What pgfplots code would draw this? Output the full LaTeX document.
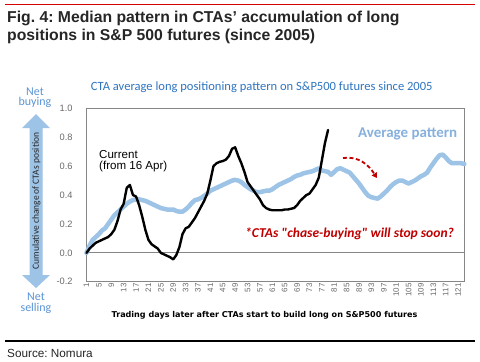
\documentclass[border=0pt]{standalone}
\usepackage{pgfplots}
\pgfplotsset{compat=1.18}
\usepackage{pgfplotstable}
\usepackage{fontspec}
\setmainfont{Liberation Sans}
\newfontfamily\carlito{Carlito}
\newfontfamily\dejavu{DejaVu Sans}
\usetikzlibrary{arrows.meta}
\definecolor{lblue}{HTML}{9DC3E6}
\definecolor{tblue}{HTML}{2F75C0}
\definecolor{nblue}{HTML}{5B95D5}
\definecolor{apblue}{HTML}{86B0DE}
\definecolor{dred}{HTML}{C00000}
\definecolor{axgray}{HTML}{868686}
\definecolor{tkgray}{HTML}{6A6A6A}
\definecolor{ttl}{HTML}{262626}
\frenchspacing

\pgfplotstableread{
d v
1 0
2 0.05
3 0.09
4 0.11
5 0.13
6 0.155
7 0.17
8 0.20
9 0.23
10 0.26
11 0.28
12 0.30
13 0.32
14 0.34
15 0.355
16 0.365
17 0.37
18 0.37
19 0.365
20 0.36
21 0.35
22 0.34
23 0.33
24 0.32
25 0.31
26 0.305
27 0.30
28 0.30
29 0.30
30 0.29
31 0.285
32 0.285
33 0.30
34 0.32
35 0.345
36 0.365
37 0.37
38 0.38
39 0.395
40 0.41
41 0.43
42 0.44
43 0.45
44 0.46
45 0.47
46 0.48
47 0.49
48 0.50
49 0.505
50 0.50
51 0.49
52 0.47
53 0.455
54 0.44
55 0.43
56 0.42
57 0.42
58 0.425
59 0.43
60 0.43
61 0.44
62 0.455
63 0.47
64 0.48
65 0.49
66 0.50
67 0.51
68 0.525
69 0.535
70 0.54
71 0.55
72 0.555
73 0.56
74 0.565
75 0.575
76 0.585
77 0.57
78 0.565
79 0.56
80 0.54
81 0.56
82 0.58
83 0.585
84 0.575
85 0.565
86 0.555
87 0.53
88 0.505
89 0.48
90 0.45
91 0.42
92 0.395
93 0.385
94 0.38
95 0.375
96 0.39
97 0.41
98 0.43
99 0.455
100 0.475
101 0.49
102 0.50
103 0.50
104 0.49
105 0.48
106 0.49
107 0.50
108 0.515
109 0.53
110 0.54
111 0.555
112 0.59
113 0.62
114 0.65
115 0.675
116 0.68
117 0.66
118 0.635
119 0.62
120 0.62
121 0.62
122 0.62
123 0.615
}\avgtab

\pgfplotstableread{
d v
1 0
2 0.03
3 0.05
4 0.07
5 0.08
6 0.09
7 0.10
8 0.11
9 0.13
10 0.16
11 0.22
12 0.30
13 0.34
14 0.45
15 0.47
16 0.40
17 0.39
18 0.33
19 0.25
20 0.16
21 0.09
22 0.06
23 0.045
24 0.03
25 0.00
26 -0.01
27 -0.02
28 -0.03
29 -0.045
30 -0.015
31 0.04
32 0.13
33 0.17
34 0.18
35 0.21
36 0.24
37 0.28
38 0.32
39 0.36
40 0.41
41 0.50
42 0.60
43 0.62
44 0.63
45 0.635
46 0.645
47 0.67
48 0.72
49 0.73
50 0.67
51 0.62
52 0.56
53 0.49
54 0.46
55 0.43
56 0.40
57 0.37
58 0.33
59 0.31
60 0.30
61 0.295
62 0.295
63 0.295
64 0.295
65 0.30
66 0.30
67 0.305
68 0.31
69 0.33
70 0.36
71 0.38
72 0.40
73 0.41
74 0.44
75 0.47
76 0.52
77 0.64
78 0.76
79 0.85
}\curtab

\begin{document}
\begin{tikzpicture}[x=1bp,y=1bp]
\fill[white] (0,0) rectangle (480,361);
% top red rule
\draw[line width=1.5bp, red!85!black] (5,356.5) -- (475,356.5);
% title
\node[anchor=base west, inner sep=0, font=\fontsize{15.8}{17}\selectfont\bfseries, text=ttl] at (7,338.3) {Fig. 4: Median pattern in CTAs’ accumulation of long};
\node[anchor=base west, inner sep=0, font=\fontsize{15.8}{17}\selectfont\bfseries, text=ttl] at (7,321) {positions in S\&P 500 futures (since 2005)};
% subtitle
\node[anchor=base west, inner sep=0, font=\carlito\fontsize{12.6}{13}\selectfont, text=tblue] at (90.7,270.3) {CTA average long positioning pattern on S\&P500 futures since 2005};
% Net buying / selling
\node[inner sep=0, font=\carlito\fontsize{12}{10}\selectfont, text=nblue, align=center, anchor=base] at (35,255.5) {Net\\buying};
\node[inner sep=0, font=\carlito\fontsize{12}{11}\selectfont, text=nblue, align=center, anchor=base] at (36,49.3) {Net\\selling};
% double arrow
\fill[lblue] (36,247) -- (50,233) -- (42.5,233) -- (42.5,86) -- (50,86) -- (36,73) -- (22,86) -- (29.5,86) -- (29.5,233) -- (22,233) -- cycle;
\node[rotate=90, inner sep=0, font=\carlito\fontsize{9.5}{10}\selectfont, text=black!85] at (36.5,160) {Cumulative change of CTAs position};

\begin{axis}[
  at={(86.5bp,79.2bp)}, anchor=south west,
  scale only axis, width=377.8bp, height=173.5bp,
  xmin=1, xmax=123, ymin=-0.2, ymax=1.0,
  axis line style={axgray, line width=1bp},
  major tick length=0pt,
  xtick={1,5,...,121},
  ytick={-0.2,0,0.2,0.4,0.6,0.8,1.0},
  yticklabels={-0.2,0.0,0.2,0.4,0.6,0.8,1.0},
  /pgf/number format/assume math mode=true,
  xticklabel style={rotate=90, anchor=east, font=\fontsize{8}{8}\selectfont, text=tkgray, inner sep=1.5bp},
  yticklabel style={font=\fontsize{9.3}{9}\selectfont, text=tkgray, xshift=-10.5bp},
  clip=false,
]
\draw[axgray, line width=1bp] (axis cs:1,0) -- (axis cs:123,0);
\addplot[lblue, line width=4.5bp, line join=round, line cap=round] table[x=d, y=v] {\avgtab};
\addplot[black, line width=2.4bp, line join=round, line cap=round] table[x=d, y=v] {\curtab};
\end{axis}

% annotations
\node[anchor=base west, inner sep=0, font=\carlito\fontsize{15}{15}\selectfont\bfseries, text=apblue] at (358,223.7) {Average pattern};
\node[anchor=base west, inner sep=0, font=\fontsize{11.6}{11.2}\selectfont, align=left] at (99,191.5) {Current\\(from 16 Apr)};
\node[anchor=base west, inner sep=0, font=\carlito\fontsize{13.6}{14}\selectfont\bfseries\itshape, text=dred] at (245,123.7) {*CTAs "chase-buying" will stop soon?};
\draw[dred, line width=1.8bp, dash pattern=on 4bp off 2.5bp, -{Triangle[length=5bp,width=6bp]}] (343,203) .. controls (358,205) and (368,197) .. (377,183);
% x label
\node[inner sep=0, font=\dejavu\fontsize{8.1}{9}\selectfont\bfseries] at (264.5,46) {Trading days later after CTAs start to build long on S\&P500 futures};
% bottom rule and source
\draw[line width=1.6bp, black] (5,20.3) -- (475,20.3);
\node[anchor=base west, inner sep=0, font=\fontsize{11.8}{12}\selectfont, text=ttl] at (7,4) {Source: Nomura};

\pgfresetboundingbox
\useasboundingbox (0,0) rectangle (480,361);
\end{tikzpicture}
\end{document}
